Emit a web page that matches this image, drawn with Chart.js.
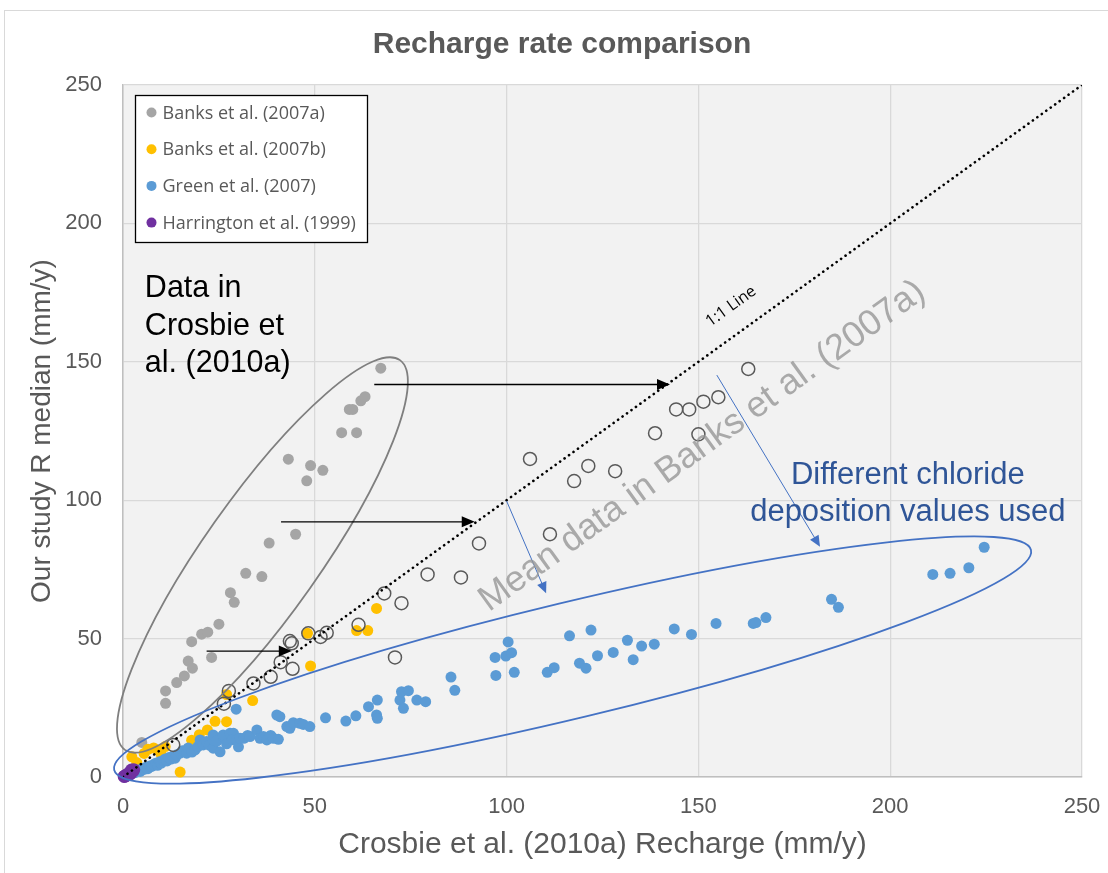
<!DOCTYPE html>
<html>
<head>
<meta charset="utf-8">
<script src="https://cdn.jsdelivr.net/npm/chart.js@4.4.1/dist/chart.umd.min.js"></script>
<style>
  html, body { margin: 0; padding: 0; background: #fff; }
  #wrap { width: 1108px; height: 873px; position: relative; }
</style>
</head>
<body>
<div id="wrap"><canvas id="chart"></canvas></div>
<script>
// Data: [Crosbie et al. (2010a) recharge, our study R median]
const banksA = [
  [4.9, 12.5], [11.1, 26.6], [11.1, 31.1], [14.0, 34.1], [16.0, 36.5], [17.0, 41.9], [18.1, 39.3],
  [17.9, 48.9], [20.5, 51.6], [22.1, 52.3], [23.1, 43.2], [25.0, 55.2], [28.0, 66.6], [29.0, 63.1],
  [32.0, 73.6], [36.2, 72.4], [38.1, 84.5], [45.0, 87.7], [43.1, 114.8], [47.9, 107.0], [48.9, 112.5],
  [52.1, 110.8], [57.0, 124.4], [60.9, 124.4], [59.0, 132.8], [59.9, 132.8], [62.0, 135.9], [63.1, 137.4],
  [67.2, 147.7]
];
const banksB = [
  [2.3, 7.3], [3.6, 5.2], [5.5, 8.5], [6.5, 10.0], [8.0, 10.5], [9.5, 9.5], [11.0, 11.0], [10.0, 8.0],
  [14.9, 1.8], [17.9, 13.3], [19.9, 15.3], [22.0, 17.0], [24.0, 20.1], [27.0, 20.0], [27.0, 29.8],
  [33.8, 27.6], [48.1, 51.9], [48.9, 40.1], [60.9, 52.9], [63.8, 52.9], [66.1, 60.9]
];
const green = [
  [1.0, 0.5], [1.5, 1.0], [2.0, 1.2], [2.5, 1.8], [3.0, 1.5], [3.5, 2.2], [4.0, 2.5], [4.5, 2.0],
  [5.0, 3.0], [5.5, 2.8], [6.0, 3.5], [6.5, 3.0], [7.0, 4.0], [7.5, 3.8], [8.0, 4.5], [8.5, 5.0],
  [9.0, 4.2], [9.5, 5.5], [10.0, 5.0], [10.5, 6.0], [11.0, 6.5], [11.5, 5.8], [12.0, 7.0], [12.5, 6.5],
  [13.0, 7.5], [13.6, 6.8], [14.0, 8.0], [14.9, 8.6], [15.5, 9.5], [16.6, 8.6], [17.0, 10.5], [18.0, 9.0],
  [18.8, 9.8], [19.5, 11.0], [20.1, 13.4], [20.9, 11.6], [21.8, 12.8], [22.5, 11.5], [23.5, 10.4],
  [23.5, 13.4], [23.5, 15.2], [24.5, 13.0], [25.3, 9.1], [26.1, 14.6], [26.1, 15.2], [27.0, 12.0],
  [27.9, 15.8], [28.8, 15.8], [28.5, 13.5], [29.6, 13.4], [29.5, 24.5], [30.1, 10.9], [30.5, 14.0],
  [31.5, 14.0], [32.5, 15.0], [33.1, 14.6], [34.9, 17.0], [35.7, 14.0], [36.6, 14.6], [37.5, 13.4],
  [38.5, 15.0], [39.2, 14.0], [40.1, 22.4], [40.5, 13.6], [40.9, 21.8], [42.7, 18.2], [43.5, 17.6],
  [44.4, 19.6], [46.1, 19.4], [47.0, 19.0], [48.7, 18.2], [52.8, 21.4], [58.1, 20.2], [60.7, 22.1],
  [64.0, 25.4], [66.1, 22.4], [66.3, 21.2], [66.3, 27.8], [72.2, 27.8], [72.6, 30.8], [73.1, 24.8],
  [74.4, 31.2], [76.6, 27.8], [78.9, 27.2], [85.5, 36.1], [86.5, 31.3], [97.0, 43.2], [97.2, 36.7],
  [99.8, 43.7], [100.4, 48.8], [101.3, 44.9], [102.0, 37.8], [110.6, 37.8], [112.4, 39.5], [116.4, 51.0],
  [119.0, 41.1], [120.7, 39.3], [122.0, 53.1], [123.7, 43.8], [127.8, 45.0], [131.5, 49.4], [133.0, 42.4],
  [135.2, 47.3], [138.5, 48.0], [143.7, 53.5], [148.2, 51.5], [154.6, 55.5], [164.3, 55.5], [165.0, 55.8],
  [167.6, 57.6], [184.7, 64.2], [186.5, 61.3], [211.1, 73.2], [215.6, 73.6], [220.5, 75.6], [224.5, 83.0]
];
const harrington = [
  [0.3, 0.2], [0.5, 0.3], [0.8, 0.5], [1.0, 0.8], [1.5, 1.2], [1.8, 1.0], [2.0, 1.5], [2.2, 2.5], [2.5, 2.0],
  [2.8, 2.6]
];
const banksMean = [
  [13.1, 11.6], [26.3, 26.5], [27.6, 31.1], [34.0, 33.8], [38.5, 36.2], [41.1, 41.5], [44.2, 39.1],
  [43.5, 49.1], [44.0, 48.3], [48.3, 51.9], [51.5, 50.6], [53.1, 52.1], [61.4, 55.0], [68.1, 66.3],
  [72.6, 62.8], [70.9, 43.2], [79.4, 73.2], [88.1, 72.1], [92.8, 84.4], [111.3, 87.7], [106.1, 114.9],
  [117.6, 106.9], [121.3, 112.4], [128.3, 110.5], [138.7, 124.2], [144.2, 132.8], [147.6, 132.8],
  [150.0, 123.8], [151.3, 135.6], [155.2, 137.2], [163.0, 147.4]
];
const oneToOne = [[0, 0], [250, 250]];
const axisTicks = [0, 50, 100, 150, 200, 250];

const toXY = (arr) => arr.map(([x, y]) => ({ x, y }));

// overlay shapes, in data units
const ellipses = [
  { from: [0.5, 9.8], to: [72.2, 150.6], halfWidth: 58, color: "#7f7f7f" },
  { from: [-2.3, 2.5], to: [236.7, 82.0], halfWidth: 58, color: "#4472c4" }
];
const blackArrows = [
  { from: [65.5, 141.8], to: [142.6, 141.8] },
  { from: [41.2, 92.2], to: [91.7, 92.2] },
  { from: [21.8, 45.5], to: [44.0, 45.5] }
];
const blueArrows = [
  { from: [100.0, 99.7], to: [110.3, 66.4] },
  { from: [154.8, 145.2], to: [181.7, 83.2] }
];

const overlayPlugin = {
  id: "overlay",
  beforeDraw(chart) {
    const { ctx, chartArea: a } = chart;
    ctx.save();
    ctx.strokeStyle = "#d9d9d9";
    ctx.lineWidth = 1;
    ctx.strokeRect(4.5, 10.5, 1300, 1000);
    ctx.fillStyle = "#f2f2f2";
    ctx.fillRect(a.left, a.top, a.right - a.left, a.bottom - a.top);
    ctx.restore();
  },
  afterDatasetsDraw(chart) {
    const { ctx, scales: { x, y } } = chart;
    const px = (p) => [x.getPixelForValue(p[0]), y.getPixelForValue(p[1])];
    ctx.save();

    // ellipses
    ellipses.forEach((e) => {
      const [x1, y1] = px(e.from);
      const [x2, y2] = px(e.to);
      const cx = (x1 + x2) / 2, cy = (y1 + y2) / 2;
      const half = Math.hypot(x2 - x1, y2 - y1) / 2;
      ctx.beginPath();
      ctx.ellipse(cx, cy, half, e.halfWidth, Math.atan2(y2 - y1, x2 - x1), 0, Math.PI * 2);
      ctx.strokeStyle = e.color;
      ctx.lineWidth = 1.8;
      ctx.stroke();
    });

    const arrow = (f, t, color, width, headLen, headW) => {
      const [x1, y1] = px(f);
      const [x2, y2] = px(t);
      const ang = Math.atan2(y2 - y1, x2 - x1);
      ctx.strokeStyle = color;
      ctx.fillStyle = color;
      ctx.lineWidth = width;
      ctx.beginPath();
      ctx.moveTo(x1, y1);
      ctx.lineTo(x2 - Math.cos(ang) * headLen * 0.8, y2 - Math.sin(ang) * headLen * 0.8);
      ctx.stroke();
      ctx.beginPath();
      ctx.moveTo(x2, y2);
      ctx.lineTo(x2 - Math.cos(ang) * headLen - Math.sin(ang) * headW, y2 - Math.sin(ang) * headLen + Math.cos(ang) * headW);
      ctx.lineTo(x2 - Math.cos(ang) * headLen + Math.sin(ang) * headW, y2 - Math.sin(ang) * headLen - Math.cos(ang) * headW);
      ctx.closePath();
      ctx.fill();
    };
    blackArrows.forEach((a) => arrow(a.from, a.to, "#000", 1.3, 13, 5.5));
    blueArrows.forEach((a) => arrow(a.from, a.to, "#4472c4", 1, 11, 5));

    // angle of the 1:1 line on screen
    const [ox, oy] = px(oneToOne[0]);
    const [ex, ey] = px(oneToOne[1]);
    const lineAng = Math.atan2(ey - oy, ex - ox);

    const rotatedText = (txt, at, font, color) => {
      const [tx, ty] = px(at);
      ctx.save();
      ctx.translate(tx, ty);
      ctx.rotate(lineAng);
      ctx.font = font;
      ctx.fillStyle = color;
      ctx.textAlign = "center";
      ctx.textBaseline = "middle";
      ctx.fillText(txt, 0, 0);
      ctx.restore();
    };
    rotatedText("1:1 Line", [158.5, 170.0], "16px 'Open Sans'", "#000");
    rotatedText("Mean data in Banks et al. (2007a)", [151.0, 119.5], "36px 'Liberation Sans'", "rgba(150,150,150,0.8)");

    ctx.textBaseline = "alphabetic";
    ctx.font = "30.5px 'Liberation Sans'";
    ctx.fillStyle = "#000";
    ctx.textAlign = "left";
    const [dx, dy] = px([5.7, 173.4]);
    ["Data in", "Crosbie et", "al. (2010a)"].forEach((s, i) => ctx.fillText(s, dx, dy + i * 37.5));

    ctx.font = "31px 'Liberation Sans'";
    ctx.fillStyle = "#2f5597";
    ctx.textAlign = "center";
    const [bx, by] = px([204.6, 105.9]);
    ["Different chloride", "deposition values used"].forEach((s, i) => ctx.fillText(s, bx, by + i * 37));

    ctx.restore();
  },
  afterDraw(chart) {
    const { ctx, chartArea: a } = chart;
    ctx.save();
    // title
    ctx.font = "bold 30px 'Liberation Sans'";
    ctx.fillStyle = "#595959";
    ctx.textAlign = "center";
    ctx.textBaseline = "middle";
    ctx.fillText("Recharge rate comparison", 562, 45);

    // legend box inside the plot
    const lx = a.left + 12.5, ly = a.top + 10.5;
    ctx.fillStyle = "#fff";
    ctx.fillRect(lx, ly, 232, 147);
    ctx.strokeStyle = "#000";
    ctx.lineWidth = 1.3;
    ctx.strokeRect(lx, ly, 232, 147);
    ctx.font = "18px 'Open Sans'";
    ctx.textAlign = "left";
    chart.data.datasets.filter((d) => d.inLegend).forEach((d, i) => {
      const cy = ly + 17 + i * 36.7;
      ctx.beginPath();
      ctx.arc(lx + 16, cy, 5, 0, Math.PI * 2);
      ctx.fillStyle = d.backgroundColor;
      ctx.fill();
      ctx.fillStyle = "#595959";
      ctx.fillText(d.label, lx + 27, cy + 1);
    });
    ctx.restore();
  }
};

const tickFont = { family: "'Liberation Sans'", size: 22 };

new Chart(document.getElementById("chart"), {
  type: "scatter",
  data: {
    datasets: [
      { label: "Banks et al. (2007a)", data: toXY(banksA), backgroundColor: "#a5a5a5", borderWidth: 0, pointRadius: 5.5, order: 6, clip: false, inLegend: true },
      { label: "Banks et al. (2007b)", data: toXY(banksB), backgroundColor: "#ffc000", borderWidth: 0, pointRadius: 5.5, order: 5, clip: false, inLegend: true },
      { label: "Green et al. (2007)", data: toXY(green), backgroundColor: "#5b9bd5", borderWidth: 0, pointRadius: 5.5, order: 4, clip: false, inLegend: true },
      { label: "Harrington et al. (1999)", data: toXY(harrington), backgroundColor: "#7030a0", borderWidth: 0, pointRadius: 6.5, order: 3, clip: false, inLegend: true },
      { label: "Mean data in Banks et al. (2007a)", data: toXY(banksMean), backgroundColor: "rgba(0,0,0,0)", borderColor: "#595959", borderWidth: 1.5, pointRadius: 6.5, order: 2, clip: false },
      {
        type: "line", label: "1:1 Line", data: toXY(oneToOne), borderColor: "#000", borderWidth: 2.6,
        borderDash: [0.1, 5.4], borderCapStyle: "round", pointRadius: 0, fill: false, order: 1
      }
    ]
  },
  options: {
    responsive: true,
    maintainAspectRatio: false,
    animation: false,
    layout: { padding: { left: 0, right: 26, top: 85, bottom: 0 } },
    plugins: {
      legend: { display: false },
      tooltip: { enabled: false },
      title: { display: false }
    },
    scales: {
      x: {
        type: "linear",
        min: 0,
        max: 250,
        afterBuildTicks: (s) => { s.ticks = axisTicks.map((v) => ({ value: v })); },
        afterFit: (s) => { s.height = 96; s.paddingLeft = 0; s.paddingRight = 0; },
        grid: { color: "#d9d9d9", lineWidth: 1.3, drawTicks: false },
        border: { color: "#bfbfbf", width: 1.5 },
        ticks: { color: "#595959", font: tickFont, padding: 17 },
        title: {
          display: true, text: "Crosbie et al. (2010a) Recharge (mm/y)", color: "#595959",
          font: { family: "'Liberation Sans'", size: 30 }, padding: { top: 0, bottom: 10 }
        }
      },
      y: {
        type: "linear",
        min: 0,
        max: 250,
        afterBuildTicks: (s) => { s.ticks = axisTicks.map((v) => ({ value: v })); },
        afterFit: (s) => { s.width = 123; s.paddingTop = 0; s.paddingBottom = 0; },
        grid: { color: "#d9d9d9", lineWidth: 1.3, drawTicks: false },
        border: { color: "#bfbfbf", width: 1.5 },
        ticks: { color: "#595959", font: tickFont, padding: 21 },
        title: {
          display: true, text: "Our study R median (mm/y)", color: "#595959",
          font: { family: "'Liberation Sans'", size: 28 }, padding: { top: 25, bottom: 0 }
        }
      }
    }
  },
  plugins: [overlayPlugin]
});
</script>
</body>
</html>
